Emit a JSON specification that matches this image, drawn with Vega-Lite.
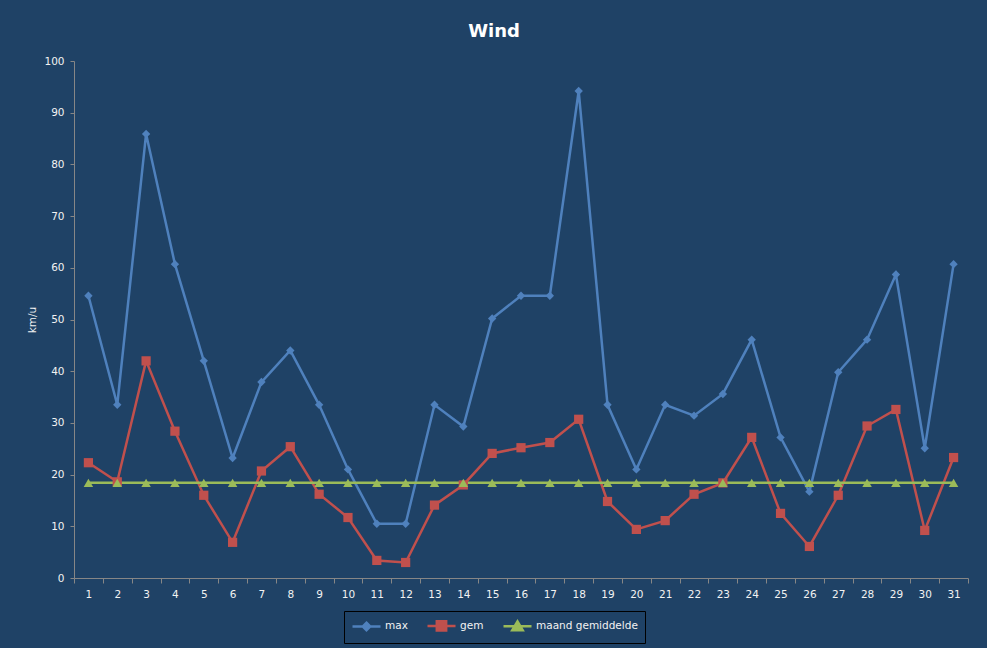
{
  "$schema": "https://vega.github.io/schema/vega-lite/v6.json",
  "width": 894,
  "height": 517,
  "autosize": "none",
  "padding": {"left": 74, "top": 61, "right": 19, "bottom": 70},
  "background": "#1F4266",
  "config": {
    "view": {"stroke": null},
    "font": "DejaVu Sans"
  },
  "title": {
    "text": "Wind",
    "color": "white",
    "font": "DejaVu Sans",
    "fontSize": 18,
    "fontWeight": "bold",
    "anchor": "middle",
    "frame": "group",
    "dx": -27,
    "offset": 15
  },
  "data": {
    "values": [
      {"dag": 1, "reeks": "max", "kmu": 54.6},
      {"dag": 2, "reeks": "max", "kmu": 33.5},
      {"dag": 3, "reeks": "max", "kmu": 85.9},
      {"dag": 4, "reeks": "max", "kmu": 60.7},
      {"dag": 5, "reeks": "max", "kmu": 42},
      {"dag": 6, "reeks": "max", "kmu": 23.2},
      {"dag": 7, "reeks": "max", "kmu": 37.9},
      {"dag": 8, "reeks": "max", "kmu": 44},
      {"dag": 9, "reeks": "max", "kmu": 33.5},
      {"dag": 10, "reeks": "max", "kmu": 21},
      {"dag": 11, "reeks": "max", "kmu": 10.5},
      {"dag": 12, "reeks": "max", "kmu": 10.5},
      {"dag": 13, "reeks": "max", "kmu": 33.5},
      {"dag": 14, "reeks": "max", "kmu": 29.3},
      {"dag": 15, "reeks": "max", "kmu": 50.2},
      {"dag": 16, "reeks": "max", "kmu": 54.6},
      {"dag": 17, "reeks": "max", "kmu": 54.6},
      {"dag": 18, "reeks": "max", "kmu": 94.2},
      {"dag": 19, "reeks": "max", "kmu": 33.5},
      {"dag": 20, "reeks": "max", "kmu": 21},
      {"dag": 21, "reeks": "max", "kmu": 33.5},
      {"dag": 22, "reeks": "max", "kmu": 31.4},
      {"dag": 23, "reeks": "max", "kmu": 35.6},
      {"dag": 24, "reeks": "max", "kmu": 46.1},
      {"dag": 25, "reeks": "max", "kmu": 27.2},
      {"dag": 26, "reeks": "max", "kmu": 16.7},
      {"dag": 27, "reeks": "max", "kmu": 39.8},
      {"dag": 28, "reeks": "max", "kmu": 46.1},
      {"dag": 29, "reeks": "max", "kmu": 58.7},
      {"dag": 30, "reeks": "max", "kmu": 25.1},
      {"dag": 31, "reeks": "max", "kmu": 60.7},
      {"dag": 1, "reeks": "gem", "kmu": 22.3},
      {"dag": 2, "reeks": "gem", "kmu": 18.6},
      {"dag": 3, "reeks": "gem", "kmu": 42},
      {"dag": 4, "reeks": "gem", "kmu": 28.4},
      {"dag": 5, "reeks": "gem", "kmu": 16},
      {"dag": 6, "reeks": "gem", "kmu": 6.9},
      {"dag": 7, "reeks": "gem", "kmu": 20.7},
      {"dag": 8, "reeks": "gem", "kmu": 25.4},
      {"dag": 9, "reeks": "gem", "kmu": 16.2},
      {"dag": 10, "reeks": "gem", "kmu": 11.7},
      {"dag": 11, "reeks": "gem", "kmu": 3.4},
      {"dag": 12, "reeks": "gem", "kmu": 3},
      {"dag": 13, "reeks": "gem", "kmu": 14.1},
      {"dag": 14, "reeks": "gem", "kmu": 18},
      {"dag": 15, "reeks": "gem", "kmu": 24.1},
      {"dag": 16, "reeks": "gem", "kmu": 25.2},
      {"dag": 17, "reeks": "gem", "kmu": 26.2},
      {"dag": 18, "reeks": "gem", "kmu": 30.7},
      {"dag": 19, "reeks": "gem", "kmu": 14.8},
      {"dag": 20, "reeks": "gem", "kmu": 9.4},
      {"dag": 21, "reeks": "gem", "kmu": 11.1},
      {"dag": 22, "reeks": "gem", "kmu": 16.2},
      {"dag": 23, "reeks": "gem", "kmu": 18.4},
      {"dag": 24, "reeks": "gem", "kmu": 27.2},
      {"dag": 25, "reeks": "gem", "kmu": 12.5},
      {"dag": 26, "reeks": "gem", "kmu": 6.1},
      {"dag": 27, "reeks": "gem", "kmu": 16},
      {"dag": 28, "reeks": "gem", "kmu": 29.4},
      {"dag": 29, "reeks": "gem", "kmu": 32.6},
      {"dag": 30, "reeks": "gem", "kmu": 9.2},
      {"dag": 31, "reeks": "gem", "kmu": 23.3},
      {"dag": 1, "reeks": "maand gemiddelde", "kmu": 18.4},
      {"dag": 2, "reeks": "maand gemiddelde", "kmu": 18.4},
      {"dag": 3, "reeks": "maand gemiddelde", "kmu": 18.4},
      {"dag": 4, "reeks": "maand gemiddelde", "kmu": 18.4},
      {"dag": 5, "reeks": "maand gemiddelde", "kmu": 18.4},
      {"dag": 6, "reeks": "maand gemiddelde", "kmu": 18.4},
      {"dag": 7, "reeks": "maand gemiddelde", "kmu": 18.4},
      {"dag": 8, "reeks": "maand gemiddelde", "kmu": 18.4},
      {"dag": 9, "reeks": "maand gemiddelde", "kmu": 18.4},
      {"dag": 10, "reeks": "maand gemiddelde", "kmu": 18.4},
      {"dag": 11, "reeks": "maand gemiddelde", "kmu": 18.4},
      {"dag": 12, "reeks": "maand gemiddelde", "kmu": 18.4},
      {"dag": 13, "reeks": "maand gemiddelde", "kmu": 18.4},
      {"dag": 14, "reeks": "maand gemiddelde", "kmu": 18.4},
      {"dag": 15, "reeks": "maand gemiddelde", "kmu": 18.4},
      {"dag": 16, "reeks": "maand gemiddelde", "kmu": 18.4},
      {"dag": 17, "reeks": "maand gemiddelde", "kmu": 18.4},
      {"dag": 18, "reeks": "maand gemiddelde", "kmu": 18.4},
      {"dag": 19, "reeks": "maand gemiddelde", "kmu": 18.4},
      {"dag": 20, "reeks": "maand gemiddelde", "kmu": 18.4},
      {"dag": 21, "reeks": "maand gemiddelde", "kmu": 18.4},
      {"dag": 22, "reeks": "maand gemiddelde", "kmu": 18.4},
      {"dag": 23, "reeks": "maand gemiddelde", "kmu": 18.4},
      {"dag": 24, "reeks": "maand gemiddelde", "kmu": 18.4},
      {"dag": 25, "reeks": "maand gemiddelde", "kmu": 18.4},
      {"dag": 26, "reeks": "maand gemiddelde", "kmu": 18.4},
      {"dag": 27, "reeks": "maand gemiddelde", "kmu": 18.4},
      {"dag": 28, "reeks": "maand gemiddelde", "kmu": 18.4},
      {"dag": 29, "reeks": "maand gemiddelde", "kmu": 18.4},
      {"dag": 30, "reeks": "maand gemiddelde", "kmu": 18.4},
      {"dag": 31, "reeks": "maand gemiddelde", "kmu": 18.4}
    ]
  },
  "encoding": {
    "x": {
      "field": "dag",
      "type": "ordinal",
      "bandPosition": 0.5,
      "scale": {"type": "band", "paddingInner": 0, "paddingOuter": 0},
      "axis": {
        "title": null,
        "labelAngle": 0,
        "labelColor": "#F2F2F2",
        "labelFontSize": 10.5,
        "labelPadding": 6,
        "tickBand": "extent",
        "tickSize": 5,
        "tickColor": "#868686",
        "domainColor": "#868686",
        "grid": false
      }
    },
    "y": {
      "field": "kmu",
      "type": "quantitative",
      "scale": {"domain": [0, 100], "nice": false},
      "axis": {
        "title": "km/u",
        "titleColor": "#F2F2F2",
        "titleFontSize": 10.5,
        "titleFontWeight": "normal",
        "titlePadding": 6,
        "values": [0, 10, 20, 30, 40, 50, 60, 70, 80, 90, 100],
        "labelColor": "#F2F2F2",
        "labelFontSize": 10.5,
        "labelPadding": 6,
        "tickSize": 4,
        "tickColor": "#868686",
        "domainColor": "#868686",
        "grid": false
      }
    },
    "color": {
      "field": "reeks",
      "type": "nominal",
      "scale": {
        "domain": ["max", "gem", "maand gemiddelde"],
        "range": ["#4F81BD", "#C0504D", "#9BBB59"]
      },
      "legend": {
        "orient": "none",
        "legendX": 270,
        "legendY": 550,
        "direction": "horizontal",
        "title": null,
        "strokeColor": "black",
        "padding": 7,
        "labelColor": "#F2F2F2",
        "labelFontSize": 10.5,
        "labelOffset": 19,
        "columnPadding": 14,
        "symbolSize": 144,
        "symbolStrokeWidth": 2.5,
        "encode": {
          "symbols": {
            "update": {
              "shape": {"signal": "datum.value === 'max' ? 'M-1,0L3.67,0M1.33,-0.62L1.95,0L1.33,0.62L0.71,0Z' : datum.value === 'gem' ? 'M-1,0L3.67,0M0.55,-0.78L2.11,-0.78L2.11,0.78L0.55,0.78Z' : 'M-1,0L3.67,0M1.33,-0.8L2.2,0.65L0.46,0.65Z'"},
              "fill": {"scale": "color", "field": "value"},
              "stroke": {"scale": "color", "field": "value"},
              "opacity": {"value": 1}
            }
          }
        }
      }
    }
  },
  "layer": [
    {
      "mark": {"type": "line", "strokeWidth": 2.5}
    },
    {
      "transform": [{"filter": "datum.reeks === 'max'"}],
      "mark": {"type": "point", "filled": true, "opacity": 1, "shape": "diamond", "size": 70}
    },
    {
      "transform": [{"filter": "datum.reeks === 'gem'"}],
      "mark": {"type": "point", "filled": true, "opacity": 1, "shape": "square", "size": 85}
    },
    {
      "transform": [{"filter": "datum.reeks === 'maand gemiddelde'"}],
      "mark": {"type": "point", "filled": true, "opacity": 1, "shape": "triangle-up", "size": 90}
    }
  ]
}
